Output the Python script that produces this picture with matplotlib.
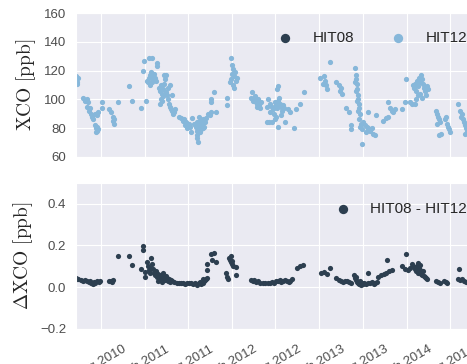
import numpy as np
import pandas as pd
import matplotlib
matplotlib.use("Agg")
import matplotlib.pyplot as plt
import matplotlib.dates as mdates
import seaborn as sns

# ---- data (days counted from 2010-01-01) ----
day_hit = [109, 109, 113, 113, 117,
           138, 146, 155, 159, 155,
           163, 171, 176, 180, 167,
           188, 196, 201,
           188, 192, 196, 192, 201, 196,
           217, 217,
           247, 255, 263, 263, 268, 268,
           284, 330, 343, 381, 393, 389, 402,
           414, 427,
           406, 410, 414, 418, 423, 427, 431, 435, 418, 427, 439, 444,
           448, 448,
           456, 460, 464, 469, 473, 477, 481, 485, 473, 464, 460, 469,
           477,
           485, 490, 494, 498, 502, 510, 506, 515, 494, 502,
           510, 519, 523,
           540, 548, 557, 561, 569,
           565, 573, 582, 586,
           590, 594,
           603, 611, 615, 619, 624, 628, 632, 636, 640, 645, 649, 653, 615, 628, 640, 624,
           615, 619, 615,
           661, 670, 674, 674, 674, 686, 695,
           741, 741,
           758, 762, 766, 762, 770, 774, 758, 753, 766, 778, 770, 783,
           845,
           841, 850, 854, 862, 866, 870, 875, 879, 858, 866, 883,
           908, 908,
           912, 921, 929, 933, 942, 946, 950, 954, 958, 963, 967, 971, 975, 921, 938, 946,
           917, 929, 942, 954, 967, 979, 950, 954,
           984, 996, 1005, 1021, 1030, 1047, 1063,
           1130, 1147, 1151, 1155, 1160, 1143, 1172,
           1197, 1210, 1214, 1222, 1218,
           1239, 1252, 1260, 1260,
           1277, 1281, 1281, 1285, 1285, 1289, 1289, 1293, 1293, 1298, 1293, 1302, 1298, 1306,
           1277, 1281, 1285, 1289,
           1310, 1319, 1327, 1331, 1339, 1348, 1352, 1361, 1323, 1335, 1306, 1331, 1365,
           1394, 1407, 1415, 1415, 1423, 1432, 1444, 1436, 1474, 1486, 1490,
           1507, 1515, 1520, 1524, 1528, 1532, 1536, 1540, 1545, 1549, 1553, 1557, 1561, 1566,
           1549, 1557, 1570, 1574, 1578, 1582, 1540, 1532, 1528,
           1616, 1620, 1624, 1628, 1633, 1620, 1637, 1628,
           1654, 1658, 1662, 1666, 1670, 1675,
           1708, 1716, 1721, 1729, 1733, 1737, 1741, 1746, 1725, 1737]

xco_hit12 = [116, 114, 112, 111, 115,
             101, 99, 100, 98, 95,
             92, 90, 88, 86, 94,
             90, 89, 91,
             82, 80, 78, 77, 79, 81,
             98, 94,
             93, 91, 88, 85, 83, 86,
             98, 109, 99, 94, 127, 120, 99,
             129, 129,
             113, 112, 115, 117, 119, 116, 114, 118, 110, 112, 115, 113,
             125, 123,
             108, 106, 110, 104, 107, 111, 114, 117, 102, 100, 97, 99,
             117,
             105, 103, 100, 97, 95, 103, 93, 90, 108, 110,
             92, 91, 93,
             88, 87, 85, 86, 84,
             82, 80, 83, 81,
             77, 87,
             83, 81, 84, 80, 82, 85, 79, 83, 86, 81, 84, 87, 78, 77, 80, 88,
             73, 70, 75,
             90, 89, 91, 100, 98, 105, 91,
             101, 96,
             129, 124, 121, 118, 116, 119, 114, 112, 110, 113, 108, 115,
             105,
             101, 99, 100, 98, 97, 100, 96, 94, 102, 95, 98,
             95, 84,
             100, 97, 95, 93, 98, 96, 94, 99, 101, 97, 95, 92, 96, 91, 90, 88,
             84, 84, 86, 81, 89, 94, 107, 109,
             84, 93, 91, 80, 93, 97, 105,
             115, 116, 113, 110, 107, 111, 126,
             112, 110, 106, 104, 108,
             94, 91, 82, 79,
             122, 117, 114, 111, 107, 103, 100, 97, 94, 90, 86, 83, 81, 79,
             112, 106, 99, 92,
             84, 82, 81, 80, 78, 80, 76, 75, 77, 79, 69, 91, 89,
             85, 87, 88, 98, 94, 92, 93, 91, 93, 98, 114,
             98, 97, 110, 108, 111, 106, 113, 109, 115, 112, 117, 114, 111, 108,
             104, 101, 106, 103, 109, 107, 103, 100, 97,
             92, 90, 88, 86, 84, 83, 76, 75,
             86, 88, 83, 81, 79, 77,
             97, 92, 88, 86, 84, 82, 80, 78, 90, 76]

# HIT08 differs by < 0.2 ppb, hidden under the HIT12 dots at this scale
xco_hit08 = list(xco_hit12)

day_diff = [109, 113, 117,
            130, 138, 146, 155, 163, 167, 176, 180, 184, 171,
            188, 196, 205, 209,
            247, 255, 259, 263,
            284, 330, 343, 381, 389, 389, 397, 397,
            406, 410, 418, 414, 423, 427, 418,
            431, 435, 439, 444, 448, 452, 456, 460, 464, 469, 473, 477, 481, 485, 490,
            494, 498, 502, 506, 510, 519, 452, 469,
            531, 540, 548, 557, 565, 573, 582, 590, 598, 607, 615, 624, 628, 632, 640, 645,
            649, 653, 657, 640,
            657, 657,
            674, 686, 695, 678,
            737, 741, 745,
            749, 753, 758, 762, 766, 758, 762,
            778, 778,
            841, 850, 854, 862, 870, 879,
            891, 900, 912, 921, 929, 938, 946, 954, 963, 967, 975, 984, 992, 1000, 1005,
            1013,
            1034, 1047, 1059,
            1134, 1147, 1160, 1172,
            1197, 1210, 1218, 1226, 1235, 1243, 1252, 1260,
            1273, 1277, 1281, 1285, 1289, 1293, 1298, 1302, 1306, 1310, 1314, 1281,
            1323, 1331, 1339, 1348, 1356, 1361, 1369,
            1331,
            1373, 1386, 1398, 1407,
            1411,
            1419, 1432,
            1474, 1486,
            1490,
            1499, 1507, 1515, 1520, 1524, 1528, 1532, 1536, 1540, 1545, 1549, 1553, 1557,
            1561, 1566, 1570, 1574, 1578, 1540, 1549,
            1616, 1624, 1633, 1649, 1658, 1662,
            1712,
            1708, 1716, 1725, 1733, 1741]

dxco = [0.045, 0.040, 0.038,
        0.035, 0.030, 0.032, 0.028, 0.025, 0.030, 0.020, 0.015, 0.025, 0.018,
        0.022, 0.028, 0.025, 0.030,
        0.030, 0.028, 0.025, 0.032,
        0.151, 0.151, 0.107, 0.087, 0.197, 0.178, 0.072, 0.050,
        0.120, 0.100, 0.090, 0.080, 0.140, 0.110, 0.070,
        0.085, 0.070, 0.060, 0.075, 0.050, 0.065, 0.055, 0.045, 0.060, 0.040, 0.070,
        0.050, 0.035, 0.055, 0.045,
        0.030, 0.040, 0.025, 0.035, 0.028, 0.025, 0.030, 0.025,
        0.020, 0.018, 0.022, 0.020, 0.015, 0.018, 0.022, 0.020, 0.015, 0.020, 0.012,
        0.018, 0.025, 0.015, 0.022, 0.030,
        0.035, 0.040, 0.045, 0.040,
        0.110, 0.080,
        0.160, 0.165, 0.120, 0.130,
        0.070, 0.050, 0.040,
        0.140, 0.130, 0.120, 0.110, 0.100, 0.150, 0.125,
        0.095, 0.060,
        0.035, 0.030, 0.032, 0.025, 0.028, 0.022,
        0.020, 0.018, 0.020, 0.022, 0.025, 0.020, 0.028, 0.030, 0.035, 0.025, 0.030,
        0.032, 0.028, 0.025, 0.030,
        0.040,
        0.090, 0.100, 0.105,
        0.070, 0.072, 0.065, 0.090,
        0.045, 0.035, 0.030, 0.025, 0.028, 0.030, 0.025, 0.020,
        0.060, 0.045, 0.035, 0.025, 0.020, 0.015, 0.030, 0.010, 0.020, 0.015, 0.020, 0.050,
        0.015, 0.020, 0.018, 0.025, 0.015, 0.020, 0.025,
        0.070,
        0.050, 0.060, 0.065, 0.070,
        0.130,
        0.075, 0.080,
        0.100, 0.085,
        0.160,
        0.080, 0.090, 0.110, 0.100, 0.095, 0.085, 0.075, 0.100, 0.070, 0.090, 0.080,
        0.065, 0.060, 0.075, 0.055, 0.050, 0.045, 0.040, 0.115, 0.105,
        0.030, 0.025, 0.020, 0.030, 0.025, 0.020,
        0.085,
        0.040, 0.035, 0.040, 0.030, 0.025]

t0 = pd.Timestamp("2010-01-01")
t_hit = t0 + pd.to_timedelta(day_hit, unit="D")
t_diff = t0 + pd.to_timedelta(day_diff, unit="D")

c08 = "#2d3f50"
c12 = "#86b7da"

sns.set_style("darkgrid")
plt.rcParams["font.family"] = ["Liberation Sans", "DejaVu Sans"]
plt.rcParams["mathtext.fontset"] = "cm"

fig = plt.figure(figsize=(4.67, 3.64), dpi=100)
# the original figure is wider / taller, the picture is cut at right and bottom
ax1 = fig.add_axes([0.1627, 0.5695, 0.956, 0.394])
ax2 = fig.add_axes([0.1627, 0.097, 0.956, 0.400])

xlim = (pd.Timestamp("2010-04-19"), pd.Timestamp("2015-06-01"))

# HIT08 drawn a bit smaller so it stays fully under HIT12
ax1.scatter(t_hit, xco_hit08, s=7, color=c08, linewidths=0, label="HIT08")
ax1.scatter(t_hit, xco_hit12, s=14, color=c12, linewidths=0, label="HIT12")
ax1.set_ylim(60, 160)
ax1.set_yticks([60, 80, 100, 120, 140, 160])
ax1.set_ylabel(r"$\mathrm{XCO\ [ppb]}$", fontsize=14, color="0.15")
leg1 = ax1.legend(loc="upper left", bbox_to_anchor=(0.403, 0.975), ncol=2, frameon=False,
                  fontsize=11, handletextpad=0.8, columnspacing=1.9)
for h in leg1.legend_handles:
    h.set_sizes([45])

ax2.scatter(t_diff, dxco, s=14, color=c08, linewidths=0, label="HIT08 - HIT12")
ax2.set_ylim(-0.2, 0.5)
ax2.set_yticks([-0.2, 0.0, 0.2, 0.4])
ax2.set_ylabel(r"$\Delta\mathrm{XCO\ [ppb]}$", fontsize=14, color="0.15")
leg2 = ax2.legend(loc="upper left", bbox_to_anchor=(0.533, 0.966), frameon=False,
                  fontsize=11, handletextpad=0.8)
for h in leg2.legend_handles:
    h.set_sizes([45])

for ax in (ax1, ax2):
    ax.set_xlim(xlim)
    ax.xaxis.set_major_locator(mdates.MonthLocator(bymonth=[2, 8]))
    ax.xaxis.set_major_formatter(mdates.DateFormatter("%b %Y"))
    ax.tick_params(labelsize=9.5, colors="0.3")

ax1.tick_params(axis="x", labelbottom=False)
ax2.tick_params(axis="x", pad=7)
plt.setp(ax2.get_xticklabels(), rotation=30)

fig.savefig("out.png", dpi=100)
